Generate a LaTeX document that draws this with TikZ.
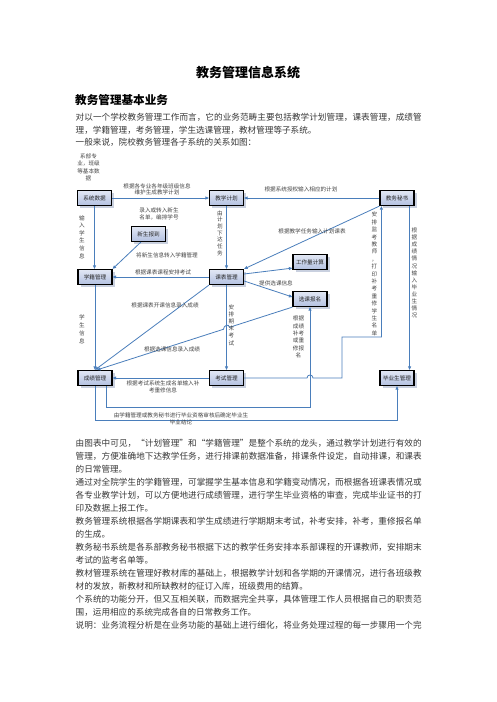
\documentclass[tikz,border=0pt]{standalone}
\usepackage{fontspec}
\setmainfont{Noto Sans CJK SC}
\usetikzlibrary{arrows.meta,calc,shadows}
\XeTeXlinebreaklocale "zh"
\XeTeXlinebreakskip=0pt plus 1pt
\definecolor{lb}{HTML}{4A7EBB}
\definecolor{boxtop}{HTML}{E2E7F4}
\definecolor{boxbot}{HTML}{B3C1E1}
\definecolor{shadowc}{HTML}{C9D0DF}
\definecolor{labc}{HTML}{444444}
\definecolor{bodyc}{HTML}{383838}
\begin{document}
\begin{tikzpicture}[x=1pt,y=-1pt,
  box/.style={draw=black, line width=1.2pt, minimum width=34pt, minimum height=15pt, inner sep=0pt,
    top color=boxtop, bottom color=boxbot, font=\fontsize{5.6}{6}\selectfont, text=black!85,
    general shadow={fill=shadowc, shadow xshift=2.5pt, shadow yshift=-2.5pt}},
  arr/.style={draw=lb, line width=0.8pt, -{Triangle[length=3.5pt,width=3pt]}},
  lab/.style={font=\fontsize{5.6}{6.7}\selectfont, align=center, inner sep=0pt, text=labc},
  vlab/.style={font=\fontsize{5.6}{#1}\selectfont, align=center, inner sep=0pt, text=labc}]
\useasboundingbox (0,0) rectangle (496,702);
\fill[white] (0,0) rectangle (496,702);

% title and texts
\node[font=\bfseries\fontsize{13}{15}\selectfont] (title) at (248,73) {教务管理信息系统};
\node[anchor=west, inner sep=0pt, font=\bfseries\fontsize{11.6}{13}\selectfont] (head) at (75,100) {教务管理基本业务};
\node[anchor=base west, inner sep=0pt, text=bodyc] (intro) at (75.5,120.8) {\vtop{\hsize=346pt\parindent=0pt\fontsize{8.6}{12.5}\selectfont
对以一个学校教务管理工作而言，它的业务范畴主要包括教学计划管理，课表管理，成绩管\break 理，学籍管理，考务管理，学生选课管理，教材管理等子系统。\par
一般来说，院校教务管理各子系统的关系如图：\par}};
\node[anchor=base west, inner sep=0pt, text=bodyc] (body) at (75.5,446.3) {\vtop{\hsize=346pt\parindent=0pt\fontsize{8.6}{13}\selectfont
由图表中可见，“计划管理”和“学籍管理”是整个系统的龙头，通过教学计划进行有效的\break 管理，方便准确地下达教学任务，进行排课前数据准备，排课条件设定，自动排课，和课表\break 的日常管理。\par
通过对全院学生的学籍管理，可掌握学生基本信息和学籍变动情况，而根据各班课表情况或\break 各专业教学计划，可以方便地进行成绩管理，进行学生毕业资格的审查，完成毕业证书的打\break 印及数据上报工作。\par
教务管理系统根据各学期课表和学生成绩进行学期期末考试，补考安排，补考，重修报名单\break 的生成。\par
教务秘书系统是各系部教务秘书根据下达的教学任务安排本系部课程的开课教师，安排期末\break 考试的监考名单等。\par
教材管理系统在管理好教材库的基础上，根据教学计划和各学期的开课情况，进行各班级教\break 材的发放，新教材和所缺教材的征订入库，班级费用的结算。\par
个系统的功能分开，但又互相关联，而数据完全共享，具体管理工作人员根据自己的职责范\break 围，运用相应的系统完成各自的日常教务工作。\par
{\parfillskip=0pt 说明：业务流程分析是在业务功能的基础上进行细化，将业务处理过程的每一步骤用一个完\par}}};

% boxes
\node[box] (sd) at (94.5,198) {系统数据};
\node[box] (jh) at (226.5,198) {教学计划};
\node[box] (ms) at (397,198) {教务秘书};
\node[box] (xs) at (148.5,234) {新生报到};
\node[box] (xj) at (95,277) {学籍管理};
\node[box] (kb) at (226.5,277) {课表管理};
\node[box] (gz) at (310,262) {工作量计算};
\node[box] (xk) at (310,299) {选课报名};
\node[box] (cj) at (95,378) {成绩管理};
\node[box] (ks) at (226.5,378) {考试管理};
\node[box] (by) at (397,378) {毕业生管理};

\coordinate (t1) at (342,337);

% connectors
\draw[arr] (sd) -- (jh);
\draw[arr] (ms) -- (jh);
\draw[arr] (sd.south) -- (sd.south |- xj.north);
\draw[arr] ($(xs.south west)+(10,0)$) -- (xj.north east);
\draw[arr] (kb) -- (xj);
\draw[arr] (jh) -- (kb);
\draw[arr] (ms.south west) -- (kb.north east);
\draw[arr] ($(kb.east)+(0,-3)$) -- ($(gz.south west)+(0,-2)$);
\draw[arr] ($(kb.east)+(0,4)$) -- ($(xk.west)+(0,-2)$);
\draw[arr] (xk.south west) -- ($(xk.south west)!0.3223!($(cj.north)+(2,0)$)$)
  .. controls +(0,-4) and +(0,-4) .. ($(xk.south west)!0.3529!($(cj.north)+(2,0)$)$) -- ($(cj.north)+(2,0)$);
\draw[arr] (kb.south west) -- (cj.north);
\draw[arr] (kb) -- (ks);
\draw[arr] (ks) -- (cj);
\draw[arr] (xj) -- (cj);
\draw[arr] (ks.east) -- ($(ks.east -| xk.south)+(-3,0)$)
  .. controls +(0,-4) and +(0,-4) .. ($(ks.east -| xk.south)+(3,0)$) -- (t1 |- ks.east) -- (t1) -| ($(ms.south west)+(2,0)$);
\draw[arr] ($(cj.south east)+(-6,0)$) -- ++(0,21) -| (xk.south);
\draw[arr] (cj.south) -- ++(0,34) -| (by.south);
\draw[arr] ($(ms.south east)+(-5,0)$) -- ($(by.north east)+(-5,0)$);

% labels
\node[vlab=7.5] (l0) at (88.5,167.5) {系部专\\业，班级\\等基本数\\据};
\node[lab] (l1) at (157,189.5) {根据各专业各年级班级信息\\维护生成教学计划};
\node[lab] (l2) at (301,189) {根据系统授权输入相应的计划};
\node[vlab=7.6] (l3) at (82,237) {输\\入\\学\\生\\信\\息};
\node[lab] (l4) at (159,214) {录入或转入新生\\名单，编排学号};
\node[lab] (l5) at (167,255) {将新生信息转入学籍管理};
\node[lab] (l6) at (163,272) {根据课表课程安排考试};
\node[vlab=6.7] (l7) at (220,233) {由\\计\\划\\下\\达\\任\\务};
\node[lab] (l8) at (312,231) {根据教学任务输入计划课表};
\node[lab] (l9) at (276,283) {提供选课信息};
\node[lab] (l10) at (172,349.5) {根据选课信息录入成绩};
\node[lab] (l11) at (165,305) {根据课表开课信息录入成绩};
\node[vlab=7.2] (l12) at (231.5,325) {安\\排\\期\\末\\考\\试};
\node[lab] (l13) at (163,386.7) {根据考试系统生成名单输入补\\考重修信息};
\node[vlab=7.4] (l14) at (374.5,274) {安\\排\\监\\考\\教\\师\\，\\打\\印\\补\\考\\重\\修\\学\\生\\名\\单};
\node[vlab=7.4] (l15) at (298.5,337) {根据\\成绩\\补考\\或重\\修报\\名};
\node[vlab=8] (l16) at (82,329) {学\\生\\信\\息};
\node[vlab=7.1] (l17) at (414.5,273) {根\\据\\成\\绩\\情\\况\\输\\入\\毕\\业\\生\\情\\况};
\node[vlab=7.7] (l18) at (181,418.8) {由学籍管理或教务秘书进行毕业资格审核后确定毕业生\\毕业结论};
\end{tikzpicture}
\end{document}
